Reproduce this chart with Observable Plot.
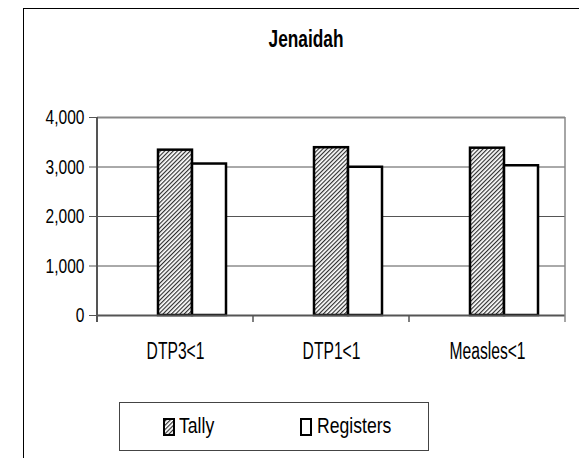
<!DOCTYPE html>
<html>
<head>
<meta charset="utf-8">
<script src="https://cdn.jsdelivr.net/npm/d3@7"></script>
<script src="https://cdn.jsdelivr.net/npm/@observablehq/plot@0.6"></script>
<style>
  html, body { margin: 0; padding: 0; background: #fff; overflow: hidden; width: 579px; height: 458px; }
  #wrap { position: relative; width: 579px; height: 458px; overflow: hidden; font-family: "Liberation Sans", Arial, sans-serif; }
  #frame { position: absolute; left: 23px; top: 8px; width: 640px; height: 520px; border-left: 1.5px solid #000; border-top: 1.5px solid #000; }
  #chart { position: absolute; left: 0; top: 0; }
  #title { position: absolute; left: 305.5px; top: 27px; transform: translateX(-50%) scaleX(0.72); font-weight: bold; font-size: 24px; line-height: 24px; white-space: nowrap; color: #000; }
  #legend { position: absolute; left: 119px; top: 402px; width: 310px; height: 49px; box-sizing: border-box; border: 1.2px solid #444; background: #fff; }
  .sw { position: absolute; top: 15px; display: block; }
  .lt { position: absolute; top: 12px; font-size: 22px; line-height: 22px; color: #000; white-space: nowrap; transform-origin: 0 50%; transform: scaleX(0.8); }
</style>
</head>
<body>
<div id="wrap">
  <div id="frame"></div>
  <div id="chart"></div>
  <div id="title"></div>
  <div id="legend"></div>
</div>
<script>
const title = "Jenaidah";
const categories = ["DTP3<1", "DTP1<1", "Measles<1"];
const series = ["Tally", "Registers"];
const tally = [3340, 3390, 3380];
const registers = [3060, 2995, 3025];
const yTicks = [0, 1000, 2000, 3000, 4000];

const values = {Tally: tally, Registers: registers};
const data = categories.flatMap((c, i) => series.map(s => ({category: c, series: s, value: values[s][i]})));

const chart = Plot.plot({
  width: 579,
  height: 458,
  marginLeft: 96,
  marginRight: 14,
  marginTop: 117,
  marginBottom: 143,
  style: {background: "transparent", fontFamily: '"Liberation Sans", Arial, sans-serif', fontSize: "21px", color: "#000"},
  fx: {domain: categories, padding: 0, label: null, axis: null},
  x: {domain: ["", ...series], paddingInner: 0, paddingOuter: 0.75, axis: null},
  y: {domain: [0, 4000], label: null, axis: null},
  color: {domain: series, range: ["url(#hatch)", "white"]},
  marks: [
    Plot.ruleY([1000, 2000, 3000], {stroke: "#555", strokeWidth: 1}),
    Plot.ruleY([4000], {stroke: "#888", strokeWidth: 2}),
    Plot.barY(data, {fx: "category", x: "series", y: "value", fill: "series", stroke: "#000", strokeWidth: 2.5}),
    Plot.ruleY([0], {stroke: "#555", strokeWidth: 2}),
    Plot.axisY({ticks: yTicks, tickFormat: d3.format(","), tickSize: 8, tickPadding: 5, label: null, stroke: "#555", fontSize: 21}),
    Plot.axisFx({anchor: "bottom", tickSize: 0, tickPadding: 27, label: null, fontSize: 23})
  ]
});

function addHatch(defsSel, id) {
  const p = defsSel.append("pattern").attr("id", id).attr("patternUnits", "userSpaceOnUse")
    .attr("width", 3).attr("height", 3).attr("patternTransform", "rotate(45)");
  p.append("rect").attr("width", 3).attr("height", 3).attr("fill", "#fff");
  p.append("line").attr("x1", 0.6).attr("y1", 0).attr("x2", 0.6).attr("y2", 3).attr("stroke", "#222").attr("stroke-width", 1.1);
}

const svg = d3.select(chart);
addHatch(svg.insert("defs", ":first-child"), "hatch");

// axis lines and category ticks from Plot's scales
const fx = chart.scale("fx");
const y = chart.scale("y");
const y0 = y.apply(0), yTop = y.apply(4000);
const bw = fx.bandwidth;
const left = fx.apply(categories[0]);
const right = fx.apply(categories[categories.length - 1]) + bw;
const g = svg.append("g");
g.append("line").attr("x1", right).attr("x2", right).attr("y1", yTop).attr("y2", y0 + 7).attr("stroke", "#888").attr("stroke-width", 1.5);
g.append("line").attr("x1", left).attr("x2", left).attr("y1", yTop).attr("y2", y0 + 7).attr("stroke", "#555").attr("stroke-width", 2);
categories.slice(0, -1).forEach(c => {
  const xb = fx.apply(c) + bw;
  g.append("line").attr("x1", xb).attr("x2", xb).attr("y1", y0).attr("y2", y0 + 7).attr("stroke", "#555").attr("stroke-width", 1.5);
});

document.getElementById("chart").appendChild(chart);
document.getElementById("title").textContent = title;

// condense axis text (narrow face look)
function condense(sel, ratio) {
  sel.each(function() {
    const len = this.getComputedTextLength();
    if (len > 0) d3.select(this).attr("textLength", len * ratio).attr("lengthAdjust", "spacingAndGlyphs");
  });
}
condense(svg.selectAll('g[aria-label="y-axis tick label"] text'), 0.74);
condense(svg.selectAll('g[aria-label="fx-axis tick label"] text'), 0.68);

// legend
const legend = document.getElementById("legend");
const swLeft = [43, 180];
const txtLeft = [59, 197];
series.forEach((s, i) => {
  const sw = d3.create("svg").attr("class", "sw").attr("width", 12).attr("height", 18).style("left", swLeft[i] + "px");
  if (i === 0) addHatch(sw.append("defs"), "hatchL");
  sw.append("rect").attr("x", 1).attr("y", 1).attr("width", 10).attr("height", 16)
    .attr("fill", i === 0 ? "url(#hatchL)" : "#fff").attr("stroke", "#000").attr("stroke-width", 2);
  legend.appendChild(sw.node());
  const t = document.createElement("span");
  t.className = "lt";
  t.style.left = txtLeft[i] + "px";
  t.textContent = s;
  legend.appendChild(t);
});
</script>
</body>
</html>
